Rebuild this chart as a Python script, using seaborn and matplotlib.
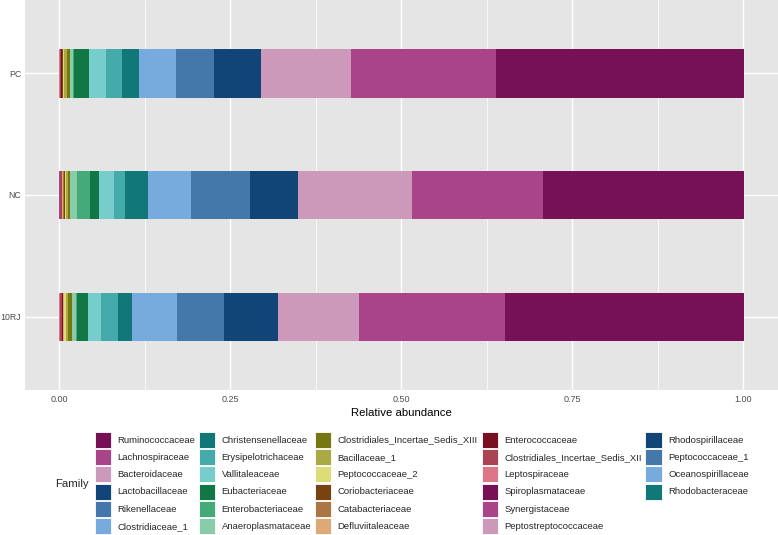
import matplotlib
matplotlib.use("Agg")
import matplotlib.pyplot as plt
import numpy as np
import pandas as pd
import seaborn as sns
from matplotlib.patches import Patch

# --- data (relative abundance per family, legend order) ---
samples = ["PC", "NC", "10RJ"]

families = [
    "Ruminococcaceae", "Lachnospiraceae", "Bacteroidaceae", "Lactobacillaceae",
    "Rikenellaceae", "Clostridiaceae_1", "Christensenellaceae", "Erysipelotrichaceae",
    "Vallitaleaceae", "Eubacteriaceae", "Enterobacteriaceae", "Anaeroplasmataceae",
    "Clostridiales_Incertae_Sedis_XIII", "Bacillaceae_1", "Peptococcaceae_2",
    "Coriobacteriaceae", "Catabacteriaceae", "Defluviitaleaceae", "Enterococcaceae",
    "Clostridiales_Incertae_Sedis_XII", "Leptospiraceae", "Spiroplasmataceae",
    "Synergistaceae", "Peptostreptococcaceae", "Rhodospirillaceae",
    "Peptococcaceae_1", "Oceanospirillaceae", "Rhodobacteraceae",
]

pc_values = [0.363, 0.211, 0.132, 0.069, 0.055, 0.054, 0.025, 0.024, 0.024, 0.022,
             0.002, 0.004, 0.004, 0.005, 0.002, 0.0005, 0.0005, 0.0005, 0.001, 0.002,
             0.0005, 0, 0, 0, 0, 0, 0, 0]
nc_values = [0.293, 0.192, 0.166, 0.071, 0.086, 0.062, 0.034, 0.016, 0.022, 0.013,
             0.019, 0.011, 0.003, 0.003, 0.001, 0.002, 0.001, 0.001, 0.001, 0.002,
             0.0005, 0.0005, 0.0005, 0, 0, 0, 0, 0]
rj_values = [0.349, 0.213, 0.119, 0.078, 0.070, 0.065, 0.021, 0.024, 0.019, 0.016,
             0.002, 0.006, 0.006, 0.002, 0.003, 0.0005, 0.0005, 0.0005, 0.002, 0.003,
             0.001, 0, 0, 0, 0, 0, 0, 0]

tol21 = ["#771155", "#AA4488", "#CC99BB", "#114477", "#4477AA", "#77AADD", "#117777",
         "#44AAAA", "#77CCCC", "#117744", "#44AA77", "#88CCAA", "#777711", "#AAAA44",
         "#DDDD77", "#774411", "#AA7744", "#DDAA77", "#771122", "#AA4455", "#DD7788"]
colors = [tol21[i % len(tol21)] for i in range(len(families))]

sns.set_theme(style="darkgrid")
plt.rcParams["font.family"] = ["Liberation Sans", "DejaVu Sans"]

df = pd.DataFrame({"PC": pc_values, "NC": nc_values, "10RJ": rj_values}, index=families)

# ggplot stacks the last level first (left), the first level ends on the right
stack = df.iloc[::-1].cumsum()          # right edge of each segment
fig = plt.figure(figsize=(7.78, 5.35), dpi=100)
ax = fig.add_axes([25 / 778, 145 / 535, 752.5 / 778, 390 / 535])
ax.set_facecolor("#E5E5E5")

for fam in families:                     # right-most segments first, then overpaint
    right = stack.loc[fam]
    sns.barplot(x=right[samples].values, y=samples, order=samples, orient="h",
                color=colors[families.index(fam)], saturation=1, width=0.4,
                linewidth=0, ax=ax)

ax.set_xlim(-0.05, 1.05)
ax.set_ylim(2.6, -0.6)
ax.set_xticks([0, 0.25, 0.5, 0.75, 1.0])
ax.set_xticklabels(["0.00", "0.25", "0.50", "0.75", "1.00"])
ax.set_xticks([0.125, 0.375, 0.625, 0.875], minor=True)
ax.grid(which="major", color="white", linewidth=1.0)
ax.grid(which="minor", axis="x", color="white", linewidth=0.5)
ax.set_axisbelow(True)
for s in ax.spines.values():
    s.set_visible(False)
ax.tick_params(axis="both", which="major", length=2.4, width=0.8, color="#333333",
               labelsize=6.5, labelcolor="#4D4D4D", pad=1.2)
ax.tick_params(axis="y", labelsize=6.3, pad=0.3)
ax.tick_params(axis="x", which="minor", length=0)
ax.set_xlabel("Relative abundance", fontsize=8.2, color="black", labelpad=3)
ax.set_ylabel("")

# two blank entries so the columns split 6/6/6/6/4 like ggplot
handles = [Patch(facecolor=c, edgecolor="white", linewidth=0.6) for c in colors]
handles += [Patch(facecolor="none", edgecolor="none")] * 2
labels = families + ["", ""]
fig.legend(handles, labels, ncol=5, loc="upper left",
           bbox_to_anchor=(87 / 778, 1 - 424 / 535), frameon=False,
           fontsize=6.8, handlelength=1.7, handleheight=2.23, labelspacing=0.14,
           handletextpad=0.7, columnspacing=0.4, borderpad=0.3)
fig.text(55 / 778, 1 - 484 / 535, "Family", fontsize=8.2, va="center", ha="left")

fig.savefig("out.png", dpi=100, facecolor="white")
